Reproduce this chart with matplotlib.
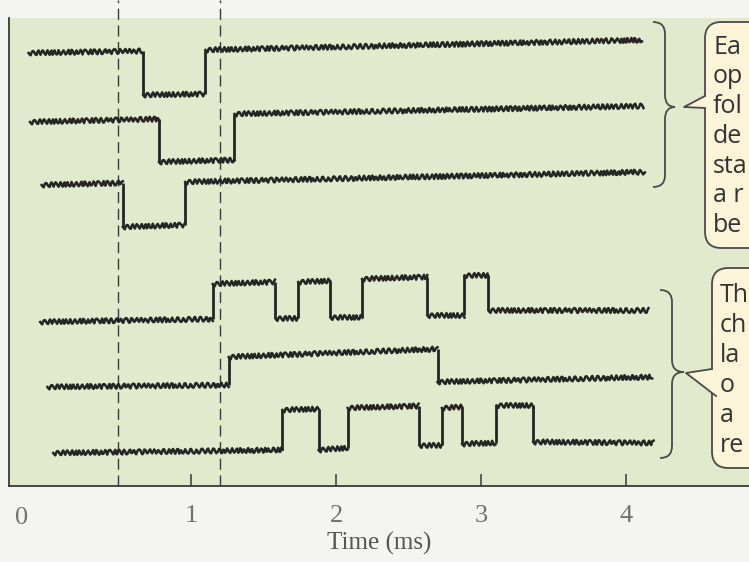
import matplotlib
matplotlib.use("Agg")
import matplotlib.pyplot as plt
from matplotlib.patches import FancyBboxPatch, Polygon, PathPatch
from matplotlib.path import Path

# ---------------- data (time in ms, current in arbitrary units) ----------------
# Na+ channel traces (top three): step downward while open
trace1_t = [-0.12, 0.67, 0.67, 1.10, 1.10, 4.11]
trace1_i = [433, 435, 391, 392, 436, 446]
trace2_t = [-0.11, 0.78, 0.78, 1.30, 1.30, 4.12]
trace2_i = [364, 367, 324, 326, 372, 380]
trace3_t = [-0.03, 0.53, 0.53, 0.96, 0.96, 4.13]
trace3_i = [301, 303, 259, 261, 304, 314]
# K+ channel traces (bottom three): step upward while open
trace4_t = [-0.04, 1.15, 1.15, 1.58, 1.58, 1.74, 1.74, 1.96, 1.96, 2.18, 2.18,
            2.63, 2.63, 2.88, 2.88, 3.05, 3.05, 4.15]
trace4_i = [164, 167, 202, 204, 168, 168, 204, 205, 169, 169, 207,
            209, 171, 171, 211, 211, 176, 176]
trace5_t = [0.01, 1.26, 1.26, 2.70, 2.70, 4.18]
trace5_i = [99, 101, 129, 137, 104, 109]
trace6_t = [0.05, 1.63, 1.63, 1.88, 1.88, 2.08, 2.08, 2.57, 2.57, 2.73, 2.73,
            2.87, 2.87, 3.10, 3.10, 3.36, 3.36, 4.19]
trace6_i = [33, 36, 76, 77, 36, 38, 78, 80, 41, 41, 78,
            79, 42, 43, 81, 81, 44, 43]

stim_times = [0.50, 1.20]
tick_values = [1, 2, 3, 4]
tick_labels = ["1", "2", "3", "4"]
origin_label = "0"
xlabel = "Time (ms)"
box1_lines = ["Ea", "op", "fol", "de", "sta", "a r", "be"]
box2_lines = ["Th", "ch", "la", "o", "a", "re"]

traces = [(trace1_t, trace1_i), (trace2_t, trace2_i), (trace3_t, trace3_i),
          (trace4_t, trace4_i), (trace5_t, trace5_i), (trace6_t, trace6_i)]

# ---------------- figure ----------------
W, H = 749, 562
fig = plt.figure(figsize=(W / 100, H / 100), dpi=100)
fig.patch.set_facecolor("#f4f4f1")

def F(px, py):
    return (px / W, 1 - py / H)

ax = fig.add_axes([9 / W, (H - 486) / H, (W - 9) / W, (486 - 18) / H])
ax.set_facecolor("#e1eacd")
ax.set_xlim(-0.255, 4.848)
ax.set_ylim(0, 468)

for s in ["top", "right"]:
    ax.spines[s].set_visible(False)
for s in ["left", "bottom"]:
    ax.spines[s].set_color("#3a3a3a")
    ax.spines[s].set_linewidth(1.3)

ax.set_yticks([])
ax.set_xticks(tick_values)
ax.set_xticklabels(tick_labels, fontfamily="Liberation Serif", fontsize=19,
                   color="#707070")
ax.tick_params(axis="x", direction="in", length=9, width=1.1, color="#3a3a3a",
               pad=14)
ax.text(-0.166, -0.045, origin_label, transform=ax.get_xaxis_transform(),
        fontfamily="Liberation Serif", fontsize=19, color="#707070",
        ha="center", va="top")
ax.set_xlabel(xlabel, fontfamily="Liberation Serif", fontsize=18,
              color="#555555", labelpad=3)

# stimulus dashed lines
for t in stim_times:
    ax.axvline(t, ymin=0, ymax=1 + 18 / 468, clip_on=False, color="#3a3a3a",
               lw=1.0, dashes=(8, 4))

# traces
for tt, ii in traces:
    for k in range(len(tt) - 1):
        seg_t = [tt[k], tt[k + 1]]
        seg_i = [ii[k], ii[k + 1]]
        if tt[k] == tt[k + 1]:
            ax.plot(seg_t, seg_i, color="#262626", lw=2.0,
                    solid_capstyle="butt")
        else:
            ln, = ax.plot(seg_t, seg_i, color="#262626", lw=1.8)
            ln.set_sketch_params(2.4, 5.0, 2.0)

# ---------------- braces and callout boxes (figure decoration) ----------------
def brace(x_hook, x_mid, x_tip, y_top, y_tip, y_bot):
    r = 12
    verts = [F(x_hook, y_top), F(x_mid, y_top), F(x_mid, y_top + r),
             F(x_mid, y_tip - r), F(x_mid, y_tip), F(x_tip, y_tip),
             F(x_mid, y_tip), F(x_mid, y_tip + r),
             F(x_mid, y_bot - r), F(x_mid, y_bot), F(x_hook, y_bot)]
    codes = [Path.MOVETO, Path.CURVE3, Path.CURVE3,
             Path.LINETO, Path.CURVE3, Path.CURVE3,
             Path.CURVE3, Path.CURVE3,
             Path.LINETO, Path.CURVE3, Path.CURVE3]
    p = PathPatch(Path(verts, codes), transform=fig.transFigure, fill=False,
                  edgecolor="#4a4a4a", lw=1.3)
    fig.add_artist(p)

brace(653, 665, 675, 22, 107, 187)
brace(660, 672, 684, 290, 372, 458)

def callout(x0, y0, y1, tail):
    box = FancyBboxPatch(F(x0, y1), (W + 40 - x0) / W, (y1 - y0) / H,
                         boxstyle="round,pad=0,rounding_size=0.022",
                         transform=fig.transFigure, facecolor="#fbf4d8",
                         edgecolor="#4a4a4a", lw=1.3, clip_on=False,
                         mutation_aspect=W / H)
    fig.add_artist(box)
    (a, tip, b) = tail
    fig.add_artist(Polygon([F(*a), F(*tip), F(*b), F(b[0] + 4, b[1]),
                            F(a[0] + 4, a[1])],
                           closed=True, transform=fig.transFigure,
                           facecolor="#fbf4d8", edgecolor="none"))
    fig.add_artist(plt.Line2D([F(*a)[0], F(*tip)[0], F(*b)[0]],
                              [F(*a)[1], F(*tip)[1], F(*b)[1]],
                              transform=fig.transFigure, color="#4a4a4a",
                              lw=1.3))

callout(705, 22, 248, ((705, 96), (684, 107), (705, 108)))
callout(712, 268, 468, ((712, 369), (686, 373), (716, 396)))

for k, s in enumerate(box1_lines):
    fig.text(*F(713, 47 + 29.8 * k), s, fontfamily="Open Sans", fontsize=18,
             color="#333333", ha="left", va="center")
for k, s in enumerate(box2_lines):
    fig.text(*F(720, 296 + 30 * k), s, fontfamily="Open Sans", fontsize=18,
             color="#333333", ha="left", va="center")

fig.savefig("out.png", dpi=100, facecolor=fig.get_facecolor())
